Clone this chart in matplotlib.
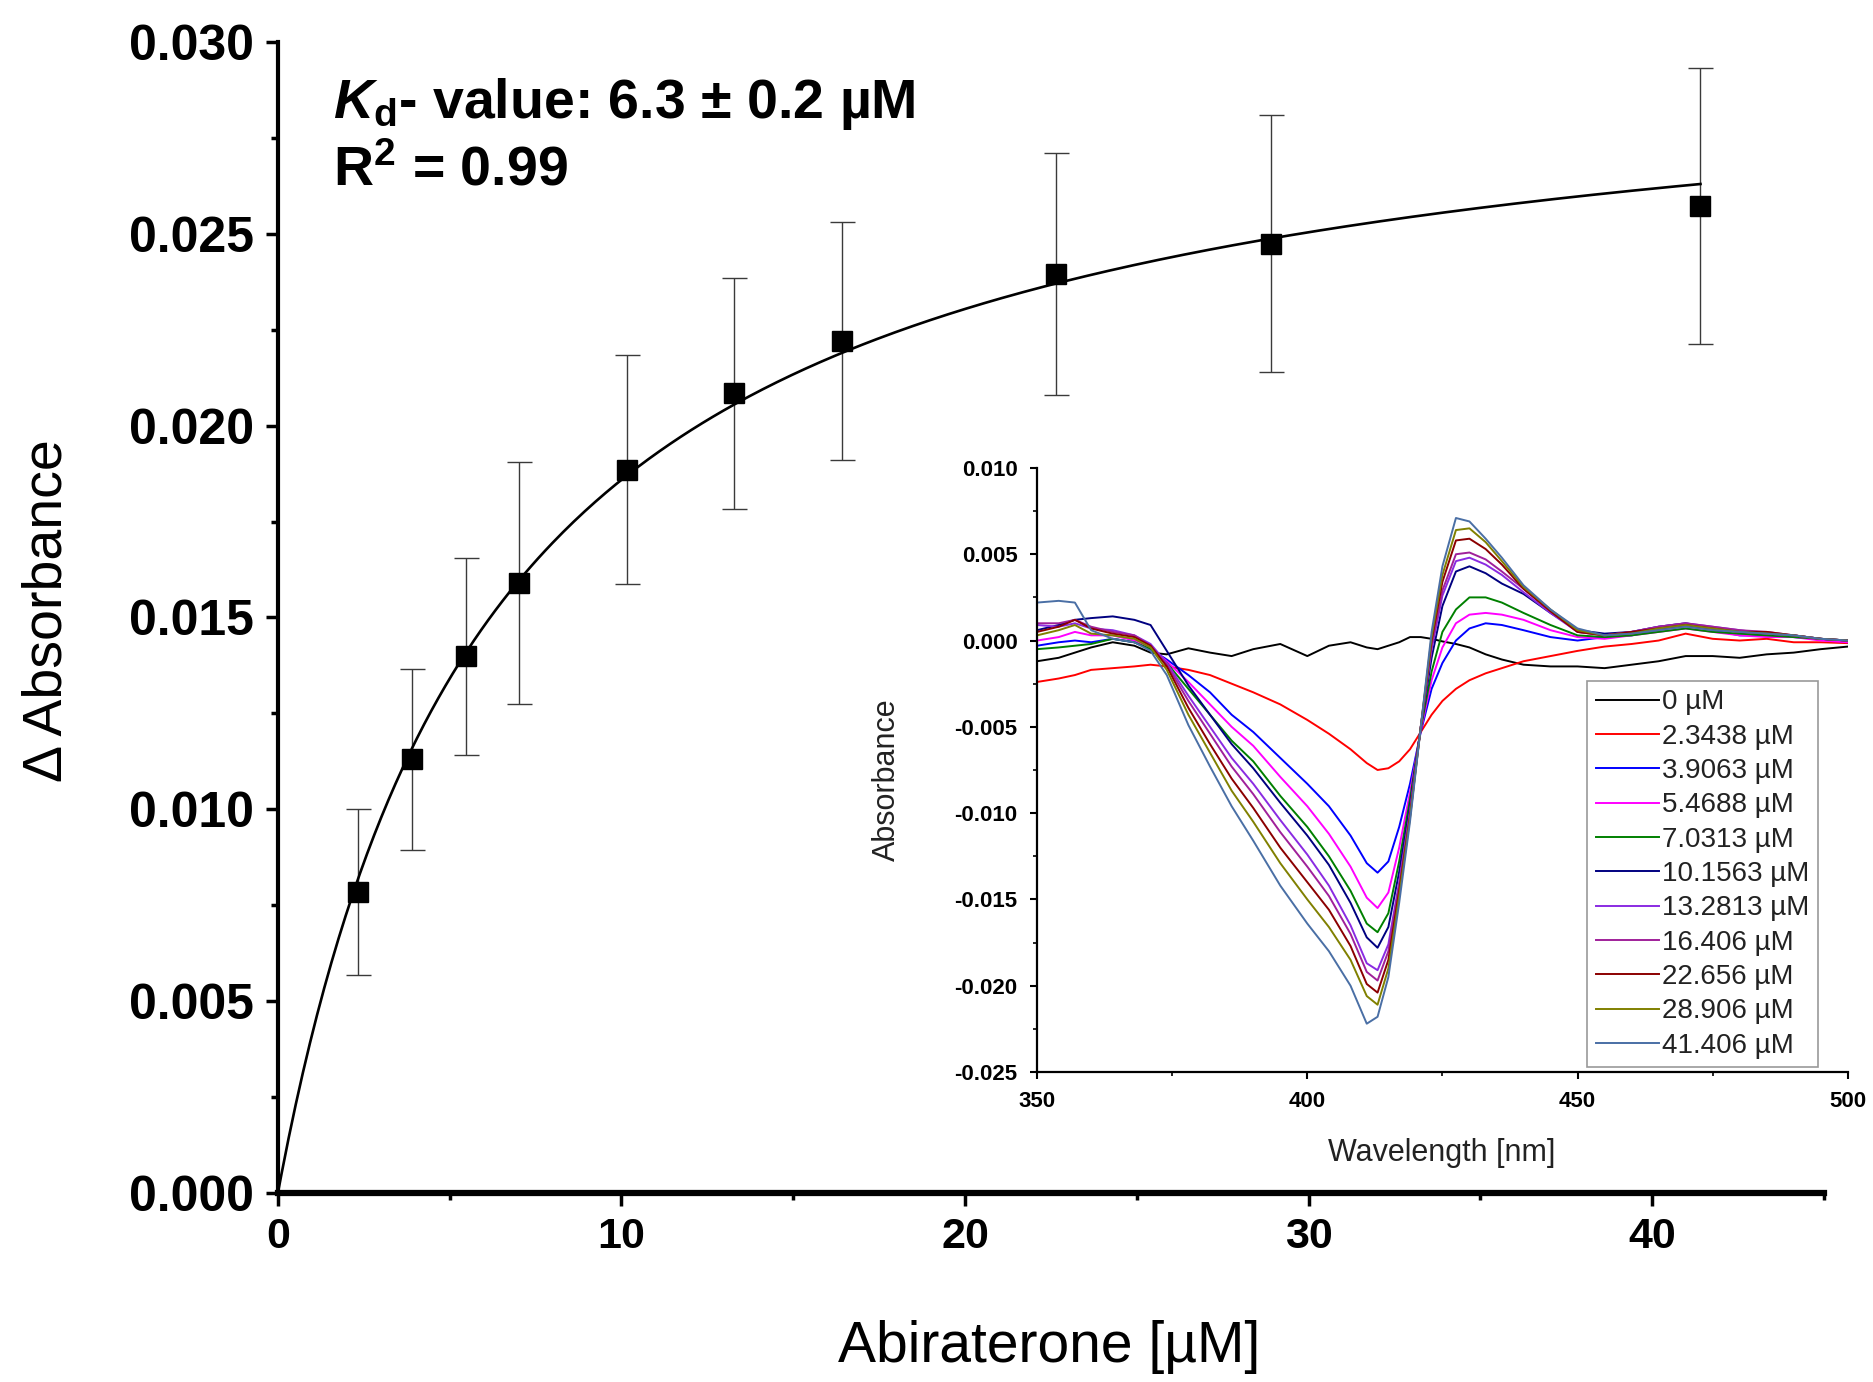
import numpy as np
import matplotlib
matplotlib.use("Agg")
import matplotlib.pyplot as plt
from matplotlib.ticker import MultipleLocator, FuncFormatter

plt.rcParams['font.family'] = ['Liberation Sans', 'DejaVu Sans']
plt.rcParams['axes.unicode_minus'] = False
plt.rcParams['mathtext.fontset'] = 'custom'
plt.rcParams['mathtext.it'] = 'Liberation Sans:italic:bold'
plt.rcParams['mathtext.rm'] = 'Liberation Sans:bold'

# ---------------- main titration data ----------------
conc = [2.3438, 3.9063, 5.4688, 7.0313, 10.1563, 13.2813, 16.406, 22.656, 28.906, 41.406]
delta_abs = [0.00785, 0.01131, 0.01399, 0.01589, 0.01885, 0.02084, 0.02221, 0.02396, 0.02474, 0.02573]
delta_err = [0.00217, 0.00236, 0.00257, 0.00315, 0.00298, 0.00300, 0.00310, 0.00315, 0.00335, 0.00360]
Kd = 6.3          # uM, fitted
Bmax = 0.0303     # fitted plateau

# ---------------- inset spectra (values in 1e-3 absorbance units) ----------------
wavelength = [350, 354, 357, 360, 364, 368, 371, 374, 378, 382, 386, 390, 395, 400, 404, 408,
              411, 413, 415, 417, 419, 421, 423, 425, 427.5, 430, 433, 436, 440, 445, 450, 455,
              460, 465, 470, 475, 480, 485, 490, 495, 500]
spec_0 = [-1.2, -1.0, -0.7, -0.4, -0.1, -0.3, -0.7, -0.8, -0.45, -0.7, -0.9, -0.5, -0.2, -0.9, -0.3, -0.1,
          -0.4, -0.5, -0.3, -0.1, 0.2, 0.2, 0.1, -0.05, -0.2, -0.4, -0.8, -1.1, -1.4, -1.5, -1.5, -1.6,
          -1.4, -1.2, -0.9, -0.9, -1.0, -0.8, -0.7, -0.5, -0.35]
spec_2_3438 = [-2.4, -2.2, -2.0, -1.7, -1.6, -1.5, -1.4, -1.5, -1.7, -2.0, -2.5, -3.0, -3.7, -4.6, -5.4, -6.3,
               -7.1, -7.5, -7.4, -7.0, -6.3, -5.3, -4.3, -3.5, -2.8, -2.3, -1.9, -1.6, -1.2, -0.9, -0.6, -0.35,
               -0.2, 0.0, 0.4, 0.1, 0.0, 0.1, -0.1, -0.1, -0.15]
spec_3_9063 = [-0.3, -0.1, 0.0, -0.1, 0.1, -0.1, -0.5, -1.1, -2.0, -3.0, -4.3, -5.3, -6.8, -8.3, -9.6, -11.3,
               -12.9, -13.45, -12.8, -10.8, -8.3, -5.3, -2.8, -1.3, 0.0, 0.7, 1.0, 0.9, 0.6, 0.2, 0.0, 0.2,
               0.3, 0.6, 0.9, 0.6, 0.3, 0.3, 0.2, 0.1, -0.1]
spec_5_4688 = [0.0, 0.2, 0.5, 0.3, 0.3, 0.0, -0.4, -1.2, -2.4, -3.7, -5.0, -6.1, -7.9, -9.6, -11.2, -13.1,
               -14.9, -15.5, -14.6, -12.0, -8.8, -5.2, -2.3, -0.4, 1.0, 1.5, 1.6, 1.5, 1.2, 0.6, 0.2, 0.1,
               0.3, 0.5, 0.7, 0.5, 0.3, 0.2, 0.2, 0.0, -0.1]
spec_7_0313 = [-0.5, -0.4, -0.3, -0.2, 0.1, -0.1, -0.5, -1.3, -2.8, -4.3, -5.8, -7.0, -9.0, -10.8, -12.5, -14.5,
               -16.4, -16.9, -15.8, -12.8, -9.2, -5.1, -1.8, 0.5, 1.8, 2.5, 2.5, 2.2, 1.6, 0.9, 0.3, 0.2,
               0.3, 0.5, 0.7, 0.5, 0.4, 0.3, 0.2, 0.1, 0.0]
spec_10_1563 = [0.6, 0.9, 1.2, 1.3, 1.4, 1.2, 0.9, -0.6, -2.6, -4.3, -6.0, -7.4, -9.4, -11.3, -13.0, -15.2,
                -17.2, -17.8, -16.6, -13.4, -9.6, -5.0, -1.0, 2.0, 4.0, 4.3, 3.9, 3.3, 2.7, 1.6, 0.6, 0.4,
                0.5, 0.8, 1.0, 0.7, 0.5, 0.4, 0.3, 0.1, 0.0]
spec_13_2813 = [0.9, 0.8, 1.0, 0.7, 0.6, 0.3, -0.2, -1.3, -3.2, -5.0, -6.8, -8.3, -10.4, -12.4, -14.2, -16.5,
                -18.7, -19.1, -17.6, -14.0, -9.9, -5.0, -0.5, 2.6, 4.6, 4.8, 4.4, 3.8, 2.8, 1.6, 0.5, 0.3,
                0.5, 0.8, 1.0, 0.8, 0.6, 0.4, 0.3, 0.1, 0.0]
spec_16_406 = [1.0, 1.0, 1.2, 0.8, 0.5, 0.3, -0.3, -1.4, -3.5, -5.4, -7.3, -8.9, -11.1, -13.1, -14.8, -17.0,
               -19.2, -19.7, -18.0, -14.2, -10.0, -5.0, -0.3, 2.9, 5.0, 5.1, 4.7, 4.0, 3.0, 1.7, 0.5, 0.3,
               0.5, 0.8, 1.0, 0.8, 0.6, 0.5, 0.3, 0.1, 0.0]
spec_22_656 = [0.5, 0.8, 1.2, 0.7, 0.4, 0.2, -0.3, -1.5, -3.9, -6.0, -8.0, -9.7, -12.0, -14.0, -15.6, -17.7,
               -19.9, -20.4, -18.5, -14.5, -10.2, -5.0, 0.0, 3.4, 5.8, 5.9, 5.3, 4.4, 3.0, 1.7, 0.5, 0.3,
               0.5, 0.7, 0.9, 0.7, 0.5, 0.5, 0.3, 0.1, 0.0]
spec_28_906 = [0.3, 0.6, 0.9, 0.4, 0.3, 0.1, -0.4, -1.7, -4.3, -6.5, -8.7, -10.5, -12.9, -15.0, -16.6, -18.5,
               -20.6, -21.1, -19.0, -14.8, -10.3, -5.0, 0.2, 3.8, 6.4, 6.5, 5.7, 4.6, 3.1, 1.8, 0.6, 0.3,
               0.4, 0.7, 0.9, 0.7, 0.5, 0.4, 0.3, 0.1, 0.0]
spec_41_406 = [2.2, 2.3, 2.2, 0.6, 0.1, -0.1, -0.6, -2.0, -4.9, -7.3, -9.6, -11.6, -14.2, -16.4, -18.0, -20.0,
               -22.2, -21.8, -19.5, -15.2, -10.5, -5.0, 0.5, 4.3, 7.1, 6.9, 5.9, 4.8, 3.2, 1.8, 0.7, 0.3,
               0.4, 0.6, 0.8, 0.6, 0.5, 0.4, 0.3, 0.1, 0.0]

spec_labels = ['0 µM', '2.3438 µM', '3.9063 µM', '5.4688 µM', '7.0313 µM', '10.1563 µM',
               '13.2813 µM', '16.406 µM', '22.656 µM', '28.906 µM', '41.406 µM']
spectra = [spec_0, spec_2_3438, spec_3_9063, spec_5_4688, spec_7_0313, spec_10_1563,
           spec_13_2813, spec_16_406, spec_22_656, spec_28_906, spec_41_406]
spec_colors = ['#000000', '#ff0000', '#0000ff', '#ff00ff', '#008000', '#000080',
               '#8a2be2', '#a0209a', '#8b0000', '#808000', '#4a6fa5']


def fmt3(v, pos):
    if abs(v) < 1e-12:
        v = 0.0
    return '%.3f' % v


# ---------------- figure ----------------
fig = plt.figure(figsize=(18.74, 13.82), dpi=100)
ax = fig.add_axes([0.1483, 0.1368, 0.8250, 0.8328])

x_fit = np.linspace(0, conc[-1], 400)
y_fit = Bmax * x_fit / (Kd + x_fit)
ax.plot(x_fit, y_fit, color='black', lw=1.9, zorder=3)
ax.errorbar(conc, delta_abs, yerr=delta_err, fmt='none', ecolor='#3a3a3a',
            elinewidth=1.0, capsize=9, capthick=1.0, zorder=2)
ax.plot(conc, delta_abs, 's', color='black', ms=15, zorder=4)

ax.set_xlim(0, 45)
ax.set_ylim(0, 0.030)
ax.spines['top'].set_visible(False)
ax.spines['right'].set_visible(False)
ax.spines['left'].set_linewidth(3.0)
ax.spines['bottom'].set_linewidth(4.5)
ax.xaxis.set_major_locator(MultipleLocator(10))
ax.xaxis.set_minor_locator(MultipleLocator(5))
ax.yaxis.set_major_locator(MultipleLocator(0.005))
ax.yaxis.set_minor_locator(MultipleLocator(0.0025))
ax.yaxis.set_major_formatter(FuncFormatter(fmt3))
ax.tick_params(which='major', direction='out', length=9, width=2.5, pad=8)
ax.tick_params(axis='x', which='major', labelsize=31)
ax.tick_params(axis='y', which='major', labelsize=36)
ax.tick_params(which='minor', direction='out', length=5, width=2.5)
for lab in ax.get_xticklabels() + ax.get_yticklabels():
    lab.set_fontweight('bold')

ax.text(1.6, 0.02802, r'$K_{\mathrm{d}}$- value: 6.3 ± 0.2 µM', fontsize=40,
        fontweight='bold', ha='left', va='baseline')
ax.text(1.6, 0.02627, r'R$^{\mathrm{2}}$ = 0.99', fontsize=40, fontweight='bold',
        ha='left', va='baseline')

fig.text(48 / 1874, 1 - 611 / 1382, 'Δ Absorbance', rotation=90, fontsize=40,
         ha='center', va='center')
fig.text(1049 / 1874, 1 - 1347 / 1382, 'Abiraterone [µM]', fontsize=41,
         ha='center', va='center')

# ---------------- inset ----------------
axin = fig.add_axes([0.5534, 0.2243, 0.4326, 0.4371])
axin.patch.set_alpha(0)
wl = np.array(wavelength)
for s, c, lab in zip(spectra, spec_colors, spec_labels):
    axin.plot(wl, np.array(s) / 1000.0, color=c, lw=1.4, label=lab)
axin.set_xlim(350, 500)
axin.set_ylim(-0.025, 0.010)
axin.spines['top'].set_visible(False)
axin.spines['right'].set_visible(False)
axin.spines['left'].set_linewidth(1.6)
axin.spines['bottom'].set_linewidth(1.6)
axin.xaxis.set_major_locator(MultipleLocator(50))
axin.xaxis.set_minor_locator(MultipleLocator(25))
axin.yaxis.set_major_locator(MultipleLocator(0.005))
axin.yaxis.set_minor_locator(MultipleLocator(0.0025))
axin.yaxis.set_major_formatter(FuncFormatter(fmt3))
axin.tick_params(which='major', direction='out', length=5, width=1.5, labelsize=16)
axin.tick_params(axis='y', which='major', pad=9)
axin.tick_params(axis='x', which='major', pad=9)
axin.tick_params(which='minor', direction='out', length=3, width=1.2)
for lab in axin.get_xticklabels() + axin.get_yticklabels():
    lab.set_fontweight('bold')
fig.text(887 / 1874, 1 - 780 / 1382, 'Absorbance', rotation=90, fontsize=22,
         ha='center', va='center', color='#222222')
fig.text(1442 / 1874, 1 - 1153 / 1382, 'Wavelength [nm]', fontsize=22,
         ha='center', va='center', color='#222222')

leg = axin.legend(loc='lower right', bbox_to_anchor=(0.970, 0.2279),
                  bbox_transform=fig.transFigure, fontsize=20, frameon=True,
                  fancybox=False, edgecolor='#999999', framealpha=1.0,
                  handlelength=2.3, handletextpad=0.1, labelspacing=0.3,
                  borderpad=0.3, borderaxespad=0)
leg.get_frame().set_linewidth(1.2)
for t in leg.get_texts():
    t.set_color('#222222')

fig.savefig('out.png', dpi=100)
